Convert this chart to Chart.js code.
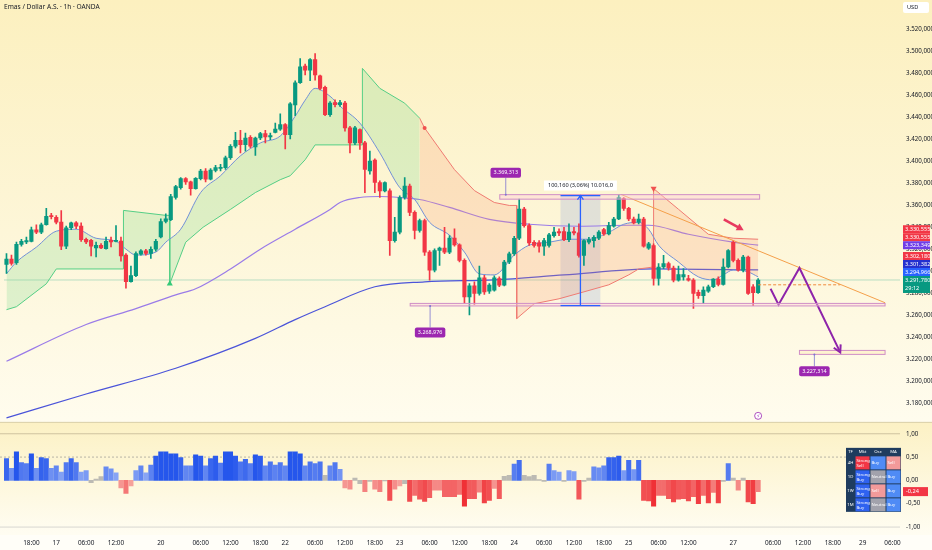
<!DOCTYPE html>
<html lang="id">
<head>
<meta charset="utf-8">
<title>Emas / Dollar A.S. · 1h · OANDA</title>
<script src="https://cdn.jsdelivr.net/npm/chart.js"></script>
<style>
  html, body { margin: 0; padding: 0; background: #fffdf3; }
  #wrap { position: relative; width: 932px; height: 550px; }
</style>
</head>
<body>
<div id="wrap"><canvas id="chart" width="932" height="550"></canvas></div>
<script>
// ---- hourly candles (index = bar number) ----
const opens = [
  3305.9,3310.7,3307.4,3324.2,3326.3,3326.9,3337.4,3335.3,3342.0,3350.3,
  3348.8,3344.3,3322.4,3339.2,3343.7,3340.7,3328.7,3327.8,3320.9,3323.3,
  3320.3,3327.8,3326.9,3327.2,3314.3,3290.3,3295.7,3315.2,3318.2,3315.8,
  3319.7,3330.8,3344.9,3346.6,3366.7,3375.7,3383.9,3380.9,3374.8,3383.9,
  3390.8,3383.3,3391.4,3393.2,3393.8,3402.8,3413.3,3418.7,3414.8,3421.4,
  3412.7,3420.8,3424.7,3421.7,3425.9,3428.9,3432.9,3423.8,3450.9,3471.0,
  3486.1,3482.5,3492.1,3477.3,3466.8,3441.9,3453.0,3451.0,3452.4,3429.9,
  3416.3,3428.4,3416.3,3390.8,3400.7,3380.3,3372.7,3372.7,3327.6,3335.2,
  3366.7,3377.2,3353.2,3336.7,3345.7,3317.1,3300.6,3318.6,3320.7,3317.1,
  3329.8,3323.7,3309.6,3276.5,3286.5,3279.5,3293.7,3281.7,3282.5,3293.1,
  3287.1,3308.1,3315.6,3329.7,3356.2,3341.2,3326.1,3325.5,3322.5,3323.1,
  3332.1,3335.8,3335.8,3328.5,3335.8,3334.6,3314.1,3326.1,3327.6,3329.7,
  3337.6,3333.7,3340.6,3347.2,3365.8,3356.8,3347.2,3344.2,3347.2,3320.7,
  3323.1,3293.1,3303.6,3306.6,3302.7,3291.6,3294.6,3293.1,3291.6,3280.5,
  3277.5,3281.7,3285.6,3292.5,3287.7,3303.6,3326.1,3309.6,3300.6,3312.6,
  3285.6,3280.2
];
const highs = [
  3315.8,3314.3,3326.3,3328.7,3330.8,3339.8,3341.9,3343.4,3356.9,3352.4,
  3350.3,3354.8,3340.7,3344.3,3344.9,3343.7,3329.9,3328.7,3326.3,3324.8,
  3330.8,3330.8,3341.3,3330.8,3315.8,3304.4,3317.3,3319.4,3319.7,3321.8,
  3328.7,3347.3,3351.8,3369.7,3377.8,3384.8,3384.8,3381.7,3384.8,3392.3,
  3392.9,3392.9,3395.9,3396.8,3404.3,3414.8,3425.9,3427.7,3425.3,3422.9,
  3421.7,3425.9,3427.7,3425.3,3434.4,3442.8,3433.8,3453.0,3472.8,3493.0,
  3487.9,3493.0,3497.5,3478.0,3468.0,3453.9,3455.5,3455.0,3454.0,3431.4,
  3431.4,3429.0,3417.8,3408.8,3401.9,3381.8,3380.9,3374.5,3348.7,3368.2,
  3384.8,3378.8,3354.7,3347.2,3347.2,3318.6,3320.1,3321.6,3339.7,3332.2,
  3338.2,3324.6,3311.1,3288.6,3290.1,3304.5,3296.1,3288.6,3295.5,3294.6,
  3309.6,3317.1,3331.5,3365.2,3357.7,3342.7,3327.6,3327.6,3329.7,3334.2,
  3339.7,3338.2,3339.7,3342.7,3339.7,3342.7,3328.5,3330.6,3332.2,3336.7,
  3338.8,3344.2,3348.7,3368.8,3366.7,3357.7,3349.0,3351.7,3348.7,3326.1,
  3324.6,3306.6,3314.1,3308.1,3304.5,3304.5,3302.1,3296.1,3293.1,3282.6,
  3285.6,3287.1,3293.1,3294.6,3311.1,3319.5,3327.7,3311.1,3314.1,3313.5,
  3287.7,3293.1
];
const lows = [
  3297.8,3305.3,3305.9,3322.4,3324.8,3326.3,3333.8,3333.8,3341.5,3347.3,
  3342.8,3319.4,3320.3,3337.4,3338.3,3326.9,3324.8,3313.7,3312.8,3320.3,
  3319.7,3321.8,3326.3,3308.9,3284.3,3289.7,3294.8,3314.3,3314.3,3311.3,
  3317.9,3329.9,3343.7,3345.7,3365.2,3374.2,3378.7,3368.8,3374.2,3382.6,
  3380.8,3382.6,3389.9,3390.8,3392.3,3401.3,3411.8,3407.3,3408.8,3411.8,
  3404.9,3419.3,3416.3,3419.3,3425.3,3427.7,3410.9,3419.9,3441.0,3470.4,
  3478.0,3472.8,3473.4,3464.4,3441.0,3440.4,3449.0,3449.5,3426.9,3407.3,
  3414.8,3410.3,3371.2,3387.8,3371.2,3366.7,3371.8,3314.1,3326.1,3333.7,
  3365.2,3350.2,3329.1,3335.2,3314.1,3291.6,3299.1,3305.1,3315.6,3315.6,
  3322.5,3308.1,3270.5,3260.0,3269.6,3278.0,3278.7,3279.5,3281.6,3285.6,
  3286.5,3306.6,3314.1,3328.5,3339.7,3323.1,3321.6,3317.1,3314.1,3321.6,
  3330.6,3332.1,3327.6,3326.7,3332.7,3312.6,3305.1,3324.6,3321.6,3328.5,
  3332.2,3332.7,3339.7,3346.6,3355.0,3345.7,3342.7,3342.7,3321.6,3319.5,
  3287.1,3287.1,3302.1,3300.6,3290.1,3290.7,3291.6,3290.7,3266.0,3275.1,
  3270.5,3280.5,3284.7,3286.5,3287.1,3302.7,3308.1,3299.7,3299.1,3278.7,
  3268.4,3279.6
];
const closes = [
  3310.7,3306.8,3324.2,3326.9,3327.5,3337.4,3335.3,3341.9,3349.7,3349.4,
  3344.3,3322.4,3339.2,3343.7,3340.7,3328.4,3326.3,3322.4,3323.3,3320.9,
  3326.9,3326.3,3327.8,3313.7,3290.3,3295.7,3315.8,3318.2,3315.8,3319.7,
  3326.9,3344.9,3347.3,3367.6,3376.6,3383.9,3380.9,3374.8,3384.2,3390.8,
  3383.3,3391.7,3393.8,3394.1,3402.8,3413.3,3418.7,3414.8,3420.8,3413.3,
  3420.8,3424.7,3421.7,3422.9,3428.9,3432.9,3423.8,3451.8,3471.0,3485.5,
  3482.5,3492.1,3478.0,3465.9,3441.9,3452.4,3451.0,3453.0,3429.9,3416.3,
  3429.9,3416.3,3392.3,3399.8,3380.3,3372.7,3380.3,3327.6,3335.2,3366.7,
  3377.2,3353.2,3336.7,3345.7,3317.1,3300.6,3318.6,3320.7,3317.1,3329.8,
  3323.7,3309.6,3276.5,3286.5,3279.5,3293.7,3281.0,3287.1,3293.7,3287.1,
  3308.1,3315.6,3329.7,3356.2,3341.2,3325.5,3323.1,3322.5,3327.6,3332.7,
  3335.2,3334.6,3328.5,3335.2,3334.6,3314.1,3327.6,3328.5,3330.6,3335.2,
  3333.7,3341.2,3347.2,3366.7,3356.8,3347.2,3343.6,3347.2,3322.5,3324.6,
  3293.1,3303.6,3306.6,3302.7,3291.6,3296.7,3296.7,3291.6,3279.6,3277.5,
  3282.6,3285.6,3292.5,3287.7,3303.6,3318.6,3309.6,3300.6,3312.6,3279.6,
  3280.2,3291.78
];

// oscillator histogram (lower pane)
const oscValues = [
  0.47,0.26,0.61,0.38,0.36,0.57,0.26,0.49,0.47,0.26,
  0.31,0.18,0.38,0.47,0.38,0.18,0.21,-0.05,0.03,0.08,
  0.29,0.25,0.16,-0.16,-0.28,-0.12,0.21,0.31,0.16,0.33,
  0.52,0.61,0.61,0.57,0.57,0.49,0.31,0.31,0.55,0.52,
  0.31,0.47,0.52,0.37,0.61,0.61,0.52,0.40,0.45,0.36,
  0.55,0.52,0.31,0.40,0.33,0.38,0.31,0.61,0.61,0.57,
  0.31,0.40,0.36,0.40,0.11,0.31,0.38,0.24,-0.16,-0.19,
  0.05,-0.07,-0.24,-0.02,-0.19,-0.24,-0.01,-0.43,-0.19,-0.12,
  -0.07,-0.45,-0.32,-0.40,-0.45,-0.37,-0.21,-0.21,-0.35,-0.35,
  -0.35,-0.30,-0.55,-0.39,-0.39,-0.25,-0.48,-0.43,-0.17,-0.39,
  0.09,0.11,0.35,0.43,0.11,0.08,0.11,0.02,-0.02,0.35,
  0.21,0.18,-0.02,0.21,0.19,-0.40,-0.02,0.05,0.29,0.27,
  0.31,0.49,0.49,0.52,0.21,0.43,0.23,0.43,-0.43,-0.44,
  -0.55,-0.32,-0.32,-0.39,-0.46,-0.40,-0.39,-0.44,-0.35,-0.50,
  -0.32,-0.48,-0.26,-0.48,-0.02,0.36,0.05,-0.21,0.05,-0.46,
  -0.50,-0.24
];

// indicator lines, [bar, price] vertices
const fastEma = [[0,3297.5],[2,3308.1],[6,3321.6],[10,3336.1],[14,3337.9],[18,3329.7],[22,3327],[24,3319.8],[26,3314.4],[30,3317.1],[32,3326.1],[35,3337.9],[39,3371.2],[43,3386.5],[47,3404.6],[51,3416.3],[55,3422.6],[58,3440.6],[60,3455.1],[62,3465.9],[65,3458.7],[67,3449.7],[71,3434.3],[75,3407.3],[79,3375.7],[82,3364.9],[85,3344.2],[89,3332.4],[92,3317.1],[95,3297.3],[98,3296.4],[102,3314.4],[105,3323.4],[109,3326.1],[113,3328.8],[117,3328.8],[121,3335.1],[124,3342.4],[127,3344.2],[129,3337.9],[131,3323.4],[135,3308.1],[139,3294.6],[142,3291.9],[144,3296.4],[146,3300.9],[149,3299.1],[151,3294.6]];
const slowPurple = [[0,3217.9],[16,3251.3],[26,3265.7],[34,3278.3],[38,3283.8],[45,3301.8],[51,3319.8],[58,3337.9],[65,3355.9],[67,3362.2],[71,3366.7],[75,3367.6],[79,3366.7],[83,3364.9],[89,3357.7],[97,3346.9],[105,3342.4],[115,3340.6],[125,3341.5],[129,3341.5],[137,3333.3],[146,3326.1],[151,3323.4]];
const slowBlue = [[0,3166.5],[16,3188.2],[34,3211.6],[50,3238.7],[58,3255.8],[64,3267.5],[74,3285.6],[84,3290.1],[98,3291.9],[112,3296.4],[130,3301.8],[151,3300.9]];
const trailGreen = [[0,3264.8],[2,3267.5],[8,3288.3],[10,3301.8],[23.5,3301.8],[23.5,3355.0],[32,3350.5],[32.8,3350.5],[32.8,3288.3],[36,3326.1],[39.5,3339.7],[45,3355.9],[50,3371.2],[55,3382.9],[57,3386.5],[60,3401],[62,3414.5],[71.5,3414.5],[71.5,3484],[75,3465.9],[80,3452.4],[83,3438.8]];
const trailRed = [[83,3438.8],[84,3429.8],[90,3392],[94,3373],[98,3362.2],[101,3359.5],[102.5,3359.5],[102.5,3256.7],[106,3270.2],[111,3274.7],[116,3281],[121,3287.4],[125,3296.4],[127,3301.8],[130,3303.6],[130,3374.8],[135,3356],[141,3333.3],[146,3329.7],[151,3328.8]];
const flipUp = [[32.8,3288.3]];
const flipDot = [[84,3429.8]];
const flipDown = [[130,3374.8]];

// drawings on the chart, in [bar, price]
const zigzag = [[153.5,3283.8],[155.1,3269.3],[159.3,3302.7],[167.5,3226.0]];
const trendLine = [[123.5,3369.4],[176.5,3271.1]];
const dashLine = [[151,3287.4],[167.5,3287.4]];
const priceLine = [[-0.5,3291.78],[179.5,3291.78]];
const zones = [[99.1,151.3,3365.2,3369.3],[81.1,176.5,3268.2,3270.5],[159.3,176.5,3224.2,3227.8]];
const noteText = ['3.369,313','3.268,976','3.227,314'];
const noteAt = [[100.3,3389.3],[85.1,3244.1],[162.3,3208.9]];
const noteFrom = [[100.3,3369.3],[85.1,3268.2],[162.3,3224.2]];
const measureBox = [111.3,119.3,3268.4,3368.5];
const measureText = '100,160 (3,06%) 10.016,0';
const redArrow = [[144.1,3346.9],[148.1,3336.9]];

// axis
const tickIdx = [5,10,16,22,31,39,45,51,56,62,68,74,79,85,91,97,102,108,114,120,125,131,137,146,154,160,166,172,178];
const tickText = ['18:00','17','06:00','12:00','20','06:00','12:00','18:00','22','06:00','12:00','18:00','23','06:00','12:00','18:00','24','06:00','12:00','18:00','25','06:00','12:00','27','06:00','12:00','18:00','29','06:00'];
const priceTicks = [3180,3200,3220,3240,3260,3280,3300,3320,3340,3360,3380,3400,3420,3440,3460,3480,3500,3520];
const oscTicks = [1,0.5,0,-0.5,-1];
const tagValues = [3330.555,3330.555,3323.349,3302.180,3301.382,3294.966,3291.780];
const tagColors = ['#f23645','#f23645','#6f3ee8','#f23645','#2430cf','#2962ff','#089981'];
const countdown = '29:12';

// table
const tableHead = ['TF','Mkt','Osc','MA'];
const tableRows = [
  ['4H','Strong Sell','Buy','Sell'],
  ['1D','Strong Buy','Neutral','Buy'],
  ['1W','Strong Buy','Sell','Buy'],
  ['1M','Strong Buy','Neutral','Buy']
];

// ---- helpers ----
function fmt(v, d) {
  const s = Math.abs(v).toFixed(d);
  let [a, b] = s.split('.');
  a = a.replace(/\B(?=(\d{3})+(?!\d))/g, '.');
  return (v < 0 ? '-' : '') + a + (b ? ',' + b : '');
}
const upColor = '#089981', downColor = '#f23645';
const candleColor = i => closes[i] >= opens[i] ? upColor : downColor;
function oscColor(v) {
  const a = Math.abs(v);
  if (a < 0.115) return 'rgba(165,165,165,0.75)';
  const t = Math.min(1, (a - 0.1) / 0.45);
  const mix = (c0, c1) => 'rgb(' + c0.map((c, k) => Math.round(c + (c1[k] - c) * t)).join(',') + ')';
  return v > 0 ? mix([150, 176, 246], [37, 86, 236]) : mix([246, 166, 160], [240, 48, 54]);
}
const cellColor = {'Strong Sell': '#f23645', 'Sell': '#f29a9a', 'Neutral': '#a2a2ac', 'Buy': '#4f8bf5', 'Strong Buy': '#2f62f0'};
const FONT = "'Noto Sans', 'DejaVu Sans', sans-serif";
const toPts = arr => arr.map(([x, y]) => ({x, y}));
// no automatic label padding: the panes must start at the canvas edge
const noPad = s => { s.paddingTop = 0; s.paddingBottom = 0; s.paddingLeft = 0; s.paddingRight = 0; };

// ---- datasets ----
const datasets = [];
const add = ds => datasets.push(ds) - 1;
const line = (data, color, width, extra) => Object.assign({
  type: 'line', yAxisID: 'y', data: toPts(data), borderColor: color, borderWidth: width,
  pointRadius: 0, fill: false
}, extra || {});

add(line(zigzag, '#8e24aa', 2, {order: 0}));
add(line(trendLine, '#f5a04a', 1, {order: 0}));
add(line(dashLine, '#ef8a3c', 1, {order: 0, borderDash: [3, 2]}));
add({type: 'line', yAxisID: 'y', data: toPts(flipUp), showLine: false, pointStyle: 'triangle', pointRadius: 3.5, pointBackgroundColor: '#35c978', pointBorderWidth: 0, order: 0});
add({type: 'line', yAxisID: 'y', data: toPts(flipDot), showLine: false, pointStyle: 'circle', pointRadius: 2, pointBackgroundColor: '#f0524f', pointBorderWidth: 0, order: 0});
add({type: 'line', yAxisID: 'y', data: toPts(flipDown), showLine: false, pointStyle: 'triangle', pointRotation: 180, pointRadius: 3.5, pointBackgroundColor: '#f0524f', pointBorderWidth: 0, order: 0});
add({
  type: 'bar', yAxisID: 'y', order: 1, grouped: false, barThickness: 3.5, minBarLength: 1,
  data: opens.map((o, i) => ({x: i, y: [o, closes[i]]})),
  backgroundColor: c => candleColor(c.dataIndex)
});
add({
  type: 'bar', yAxisID: 'y', order: 2, grouped: false, barThickness: 1,
  data: lows.map((l, i) => ({x: i, y: [l, highs[i]]})),
  backgroundColor: c => candleColor(c.dataIndex)
});
add({
  type: 'bar', yAxisID: 'osc', order: 1, grouped: false, barThickness: 4.4,
  data: oscValues.map((v, i) => ({x: i, y: v})),
  backgroundColor: c => oscColor(oscValues[c.dataIndex])
});
const emaIdx = add(line(fastEma, '#7391d8', 1, {order: 4, cubicInterpolationMode: 'monotone'}));
add(line(trailGreen, '#55cf86', 1, {order: 5, fill: {target: emaIdx, above: 'rgba(110,215,130,0.22)', below: 'rgba(110,215,130,0.22)'}}));
add(line(trailRed, '#f07b72', 1, {order: 5, fill: {target: emaIdx, above: 'rgba(250,150,110,0.22)', below: 'rgba(250,150,110,0.22)'}}));
add(line(slowPurple, '#9a7be8', 1.2, {order: 6, cubicInterpolationMode: 'monotone'}));
add(line(slowBlue, '#4b54d9', 1.2, {order: 6, cubicInterpolationMode: 'monotone'}));
add(line(priceLine, 'rgba(8,153,129,0.35)', 0.8, {order: 8}));

// ---- background, panes and drawings ----
const backdrop = {
  id: 'backdrop',
  beforeDraw(chart) {
    const {ctx, width, height} = chart;
    const y = chart.scales.y, o = chart.scales.osc;
    ctx.save();
    let g = ctx.createLinearGradient(0, 0, 0, y.bottom);
    g.addColorStop(0, '#fcf0bf');
    g.addColorStop(0.55, '#fdf6d8');
    g.addColorStop(1, '#fffcee');
    ctx.fillStyle = g;
    ctx.fillRect(0, 0, width, y.bottom);
    g = ctx.createLinearGradient(0, o.top, 0, o.bottom);
    g.addColorStop(0, '#fcf1c4');
    g.addColorStop(1, '#fffdf2');
    ctx.fillStyle = g;
    ctx.fillRect(0, o.top, width, o.bottom - o.top);
    ctx.fillStyle = '#fffef8';
    ctx.fillRect(0, o.bottom, width, height - o.bottom);
    ctx.restore();
  },
  beforeDatasetsDraw(chart) {
    const {ctx, chartArea, width} = chart;
    const X = v => chart.scales.x.getPixelForValue(v);
    const Y = v => chart.scales.y.getPixelForValue(v);
    const o = chart.scales.osc;
    ctx.save();
    ctx.lineWidth = 1;
    ctx.strokeStyle = 'rgba(0,0,0,0.14)';
    ctx.beginPath(); ctx.moveTo(0, o.top + 0.5); ctx.lineTo(width, o.top + 0.5); ctx.stroke();
    ctx.strokeStyle = 'rgba(150,140,110,0.45)';
    ctx.beginPath(); ctx.moveTo(0, o.getPixelForValue(1)); ctx.lineTo(chartArea.right, o.getPixelForValue(1)); ctx.stroke();
    ctx.strokeStyle = 'rgba(190,190,190,0.6)';
    ctx.beginPath(); ctx.moveTo(0, o.getPixelForValue(-1)); ctx.lineTo(chartArea.right, o.getPixelForValue(-1)); ctx.stroke();
    ctx.setLineDash([2, 2]);
    ctx.strokeStyle = 'rgba(140,140,140,0.6)';
    ctx.beginPath(); ctx.moveTo(0, o.getPixelForValue(0.5)); ctx.lineTo(chartArea.right, o.getPixelForValue(0.5)); ctx.stroke();
    ctx.setLineDash([]);
    // measuring box
    const [m0, m1, mLo, mHi] = measureBox;
    ctx.fillStyle = 'rgba(60,100,230,0.14)';
    ctx.fillRect(X(m0), Y(mHi), X(m1) - X(m0), Y(mLo) - Y(mHi));
    ctx.restore();
  },
  afterDatasetsDraw(chart) {
    const {ctx, chartArea} = chart;
    const X = v => chart.scales.x.getPixelForValue(v);
    const Y = v => chart.scales.y.getPixelForValue(v);
    const o = chart.scales.osc, ys = chart.scales.y;
    ctx.save();

    // zones
    zones.forEach(([a, b, lo, hi], k) => {
      ctx.fillStyle = k === 2 ? 'rgba(255,236,190,0.55)' : 'rgba(255,205,215,0.4)';
      ctx.strokeStyle = '#cf8ec6';
      ctx.lineWidth = 1;
      ctx.fillRect(X(a), Y(hi), X(b) - X(a), Y(lo) - Y(hi));
      ctx.strokeRect(X(a), Y(hi), X(b) - X(a), Y(lo) - Y(hi));
    });

    // measuring tool
    const [m0, m1, mLo, mHi] = measureBox;
    const mx = (X(m0) + X(m1)) / 2;
    ctx.strokeStyle = '#2962ff';
    ctx.lineWidth = 1.3;
    ctx.beginPath();
    ctx.moveTo(X(m0), Y(mHi)); ctx.lineTo(X(m1), Y(mHi));
    ctx.moveTo(X(m0), Y(mLo)); ctx.lineTo(X(m1), Y(mLo));
    ctx.moveTo(mx, Y(mLo)); ctx.lineTo(mx, Y(mHi));
    ctx.moveTo(mx - 3, Y(mHi) + 4); ctx.lineTo(mx, Y(mHi)); ctx.lineTo(mx + 3, Y(mHi) + 4);
    ctx.stroke();
    ctx.font = '5.6px ' + FONT;
    const mw = ctx.measureText(measureText).width + 8;
    ctx.fillStyle = '#ffffff';
    ctx.fillRect(mx - mw / 2, Y(mHi) - 15, mw, 10);
    ctx.fillStyle = '#131722';
    ctx.textAlign = 'center';
    ctx.textBaseline = 'middle';
    ctx.fillText(measureText, mx, Y(mHi) - 10);

    // price notes
    noteText.forEach((t, k) => {
      const x = X(noteAt[k][0]), y = Y(noteAt[k][1]);
      const fy = Y(noteFrom[k][1]);
      ctx.strokeStyle = '#7e75d0';
      ctx.lineWidth = 0.8;
      ctx.beginPath();
      ctx.moveTo(x, fy);
      ctx.lineTo(x, y + (fy > y ? 5 : -5));
      ctx.stroke();
      ctx.fillStyle = '#7e75d0';
      ctx.beginPath(); ctx.arc(x, fy, 1, 0, Math.PI * 2); ctx.fill();
      ctx.font = '5.4px ' + FONT;
      const w = ctx.measureText(t).width + 6;
      ctx.fillStyle = '#9c27b0';
      ctx.beginPath();
      ctx.roundRect(x - w / 2, y - 5, w, 10, 2);
      ctx.fill();
      ctx.fillStyle = '#ffffff';
      ctx.textAlign = 'center';
      ctx.fillText(t, x, y);
    });

    // red arrow
    {
      const ax = X(redArrow[0][0]), ay = Y(redArrow[0][1]);
      const bx = X(redArrow[1][0]), by = Y(redArrow[1][1]);
      const ang = Math.atan2(by - ay, bx - ax);
      ctx.strokeStyle = '#e83a5f';
      ctx.fillStyle = '#e83a5f';
      ctx.lineWidth = 2.6;
      ctx.beginPath();
      ctx.moveTo(ax, ay);
      ctx.lineTo(bx - 5 * Math.cos(ang), by - 5 * Math.sin(ang));
      ctx.stroke();
      ctx.beginPath();
      ctx.moveTo(bx, by);
      ctx.lineTo(bx - 8 * Math.cos(ang - 0.5), by - 8 * Math.sin(ang - 0.5));
      ctx.lineTo(bx - 8 * Math.cos(ang + 0.5), by - 8 * Math.sin(ang + 0.5));
      ctx.closePath();
      ctx.fill();
    }

    // zigzag arrow head
    {
      const n = zigzag.length;
      const ax = X(zigzag[n - 2][0]), ay = Y(zigzag[n - 2][1]);
      const bx = X(zigzag[n - 1][0]), by = Y(zigzag[n - 1][1]);
      const ang = Math.atan2(by - ay, bx - ax);
      ctx.strokeStyle = '#8e24aa';
      ctx.lineWidth = 2;
      ctx.beginPath();
      ctx.moveTo(bx - 8 * Math.cos(ang - 0.5), by - 8 * Math.sin(ang - 0.5));
      ctx.lineTo(bx, by);
      ctx.lineTo(bx - 8 * Math.cos(ang + 0.5), by - 8 * Math.sin(ang + 0.5));
      ctx.stroke();
    }

    // event marker
    {
      const x = X(closes.length - 1), y = ys.bottom - 6;
      ctx.strokeStyle = '#9c27b0';
      ctx.lineWidth = 0.8;
      ctx.fillStyle = '#ffffff';
      ctx.beginPath(); ctx.arc(x, y, 3.5, 0, Math.PI * 2); ctx.fill(); ctx.stroke();
      ctx.fillStyle = '#9c27b0';
      ctx.font = '5px ' + FONT;
      ctx.textAlign = 'center';
      ctx.fillText('⚡', x, y + 0.3);
    }

    // axis tags
    const tagX = chartArea.right + 3, tagW = 27;
    const pos = tagValues.map(v => Y(v));
    for (let k = pos.length - 2; k >= 0; k--) pos[k] = Math.min(pos[k], pos[k + 1] - 8);
    ctx.font = '5.6px ' + FONT;
    ctx.textAlign = 'left';
    ctx.textBaseline = 'middle';
    tagValues.forEach((v, k) => {
      const last = k === tagValues.length - 1;
      ctx.fillStyle = tagColors[k];
      ctx.fillRect(tagX, pos[k] - 4, tagW, last ? 17 : 8);
      ctx.fillStyle = '#ffffff';
      ctx.fillText(fmt(v, 3), tagX + 2, pos[k]);
      if (last) ctx.fillText(countdown, tagX + 2, pos[k] + 8);
    });
    const ov = oscValues[oscValues.length - 1];
    const oy = o.getPixelForValue(ov);
    ctx.fillStyle = '#f23645';
    ctx.fillRect(tagX, oy - 4.5, 25, 9);
    ctx.fillStyle = '#ffffff';
    ctx.fillText(fmt(ov, 2), tagX + 3, oy);

    // currency box and title
    ctx.fillStyle = '#ffffff';
    ctx.beginPath(); ctx.roundRect(tagX, 2, 26, 11, 2); ctx.fill();
    ctx.fillStyle = '#131722';
    ctx.textAlign = 'left';
    ctx.fillText('USD', tagX + 4, 7.5);
    ctx.font = '6.6px ' + FONT;
    ctx.fillText('Emas / Dollar A.S. · 1h · OANDA', 4, 7.5);

    // rating table
    const colW = [9, 15, 16, 15], rowH = [8, 14, 14, 14, 14];
    const tx = chartArea.right - 54, ty = o.top + 26;
    const totalW = colW.reduce((a, b) => a + b, 0), totalH = rowH.reduce((a, b) => a + b, 0);
    ctx.fillStyle = '#1f3c5e';
    ctx.fillRect(tx, ty, totalW, totalH);
    ctx.font = '4.3px ' + FONT;
    let cy = ty;
    [tableHead].concat(tableRows).forEach((row, r) => {
      let cx = tx;
      row.forEach((cell, c) => {
        const w = colW[c], h = rowH[r];
        if (r > 0 && c > 0) {
          ctx.fillStyle = cellColor[cell];
          ctx.fillRect(cx + 0.5, cy + 0.5, w - 1, h - 1);
        }
        ctx.fillStyle = '#ffffff';
        if (r === 0 || c === 0) {
          ctx.textAlign = 'center';
          ctx.fillText(cell, cx + w / 2, cy + h / 2);
        } else {
          ctx.textAlign = 'left';
          const parts = cell.startsWith('Strong') ? ['Strong', cell.slice(7)] : [cell];
          if (parts.length === 2) {
            ctx.fillText(parts[0], cx + 1.5, cy + h / 2 - 2.5);
            ctx.fillText(parts[1], cx + 1.5, cy + h / 2 + 2.5);
          } else {
            ctx.fillText(parts[0], cx + 1.5, cy + h / 2);
          }
        }
        cx += w;
      });
      cy += rowH[r];
    });
    ctx.restore();
  }
};

Chart.defaults.font.family = FONT;
Chart.defaults.color = '#131722';

const chart = new Chart(document.getElementById('chart').getContext('2d'), {
  type: 'bar',
  data: {datasets: datasets},
  options: {
    responsive: false,
    animation: false,
    layout: {padding: 0},
    plugins: {legend: {display: false}, tooltip: {enabled: false}},
    scales: {
      x: {
        type: 'linear', min: -0.5, max: 179.5, offset: false,
        grid: {display: false, drawTicks: false}, border: {display: false},
        afterBuildTicks: s => { s.ticks = tickIdx.map(v => ({value: v})); },
        afterFit: s => { s.height = 15; noPad(s); },
        ticks: {autoSkip: false, maxRotation: 0, padding: 4, font: {size: 6.4}, callback: (v, k) => tickText[k]}
      },
      y: {
        type: 'linear', position: 'right', stack: 'pane', stackWeight: 421, weight: 0,
        min: 3162.9, max: 3542.5,
        grid: {display: false, drawTicks: false}, border: {display: false},
        afterBuildTicks: s => { s.ticks = priceTicks.map(v => ({value: v})); },
        afterFit: s => { s.width = 32; noPad(s); },
        ticks: {padding: 6, font: {size: 6.2}, callback: v => fmt(v, 3)}
      },
      osc: {
        type: 'linear', position: 'right', stack: 'pane', stackWeight: 114, weight: 1,
        min: -1.17, max: 1.255,
        grid: {display: false, drawTicks: false}, border: {display: false},
        afterBuildTicks: s => { s.ticks = oscTicks.map(v => ({value: v})); },
        afterFit: s => { s.width = 32; noPad(s); },
        ticks: {padding: 6, font: {size: 6.2}, callback: v => fmt(v, 2)}
      }
    }
  },
  plugins: [backdrop]
});
</script>
</body>
</html>
